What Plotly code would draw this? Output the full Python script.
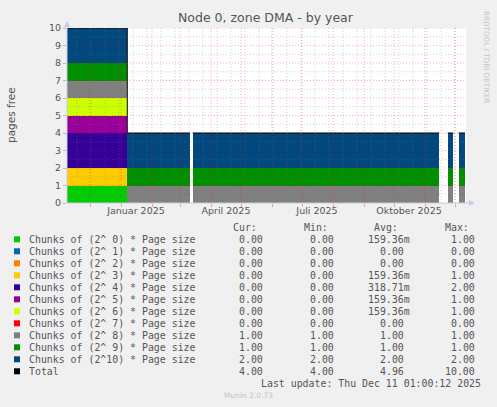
import plotly.graph_objects as go
import pandas as pd

# ---------------- data ----------------
series_names = [
    "Chunks of (2^ 0) * Page size",
    "Chunks of (2^ 1) * Page size",
    "Chunks of (2^ 2) * Page size",
    "Chunks of (2^ 3) * Page size",
    "Chunks of (2^ 4) * Page size",
    "Chunks of (2^ 5) * Page size",
    "Chunks of (2^ 6) * Page size",
    "Chunks of (2^ 7) * Page size",
    "Chunks of (2^ 8) * Page size",
    "Chunks of (2^ 9) * Page size",
    "Chunks of (2^10) * Page size",
]
series_colors = ["#00CC00", "#0066B3", "#FF8000", "#FFCC00", "#330099", "#990099",
                 "#CCFF00", "#FF0000", "#808080", "#008F00", "#00487D"]

seg_start = ["2024-11-08 00:00", "2025-01-07 07:00", "2025-03-13 17:00",
             "2025-11-23 17:00", "2025-12-04 17:00"]
seg_end = ["2025-01-07 07:00", "2025-03-11 00:00", "2025-11-15 00:00",
           "2025-11-29 07:00", "2025-12-11 01:00"]

values_o0 = [1, 0, 0, 0, 0]
values_o1 = [0, 0, 0, 0, 0]
values_o2 = [0, 0, 0, 0, 0]
values_o3 = [1, 0, 0, 0, 0]
values_o4 = [2, 0, 0, 0, 0]
values_o5 = [1, 0, 0, 0, 0]
values_o6 = [1, 0, 0, 0, 0]
values_o7 = [0, 0, 0, 0, 0]
values_o8 = [1, 1, 1, 1, 1]
values_o9 = [1, 1, 1, 1, 1]
values_o10 = [2, 2, 2, 2, 2]
series_values = [values_o0, values_o1, values_o2, values_o3, values_o4, values_o5,
                 values_o6, values_o7, values_o8, values_o9, values_o10]

stat_cur = [0, 0, 0, 0, 0, 0, 0, 0, 1, 1, 2, 4]
stat_min = [0, 0, 0, 0, 0, 0, 0, 0, 1, 1, 2, 4]
stat_avg = [0.15936, 0, 0, 0.15936, 0.31871, 0.15936, 0.15936, 0, 1, 1, 2, 4.96]
stat_max = [1, 0, 0, 1, 2, 1, 1, 0, 1, 1, 2, 10]

x_tick_vals = ["2025-01-16", "2025-04-16", "2025-07-16", "2025-10-16"]
x_tick_text = ["Januar 2025", "April 2025", "Juli 2025", "Oktober 2025"]
y_tick_vals = list(range(0, 11))

title_text = "Node 0, zone DMA - by year"
y_title = "pages free"
last_update = "Last update: Thu Dec 11 01:00:12 2025"
x_range = ["2024-11-08 00:00", "2025-12-12 00:00"]

# ---------------- geometry helpers ----------------
W, H = 497, 407
L, R, T, B = 67, 466, 28, 203


def px(x):
    return (x - L) / (R - L)


def py(y):
    return (B - y) / (B - T)


TXT = "#555555"
MONO = "DejaVu Sans Mono"
SANS = "DejaVu Sans"

starts = pd.to_datetime(seg_start)
ends = pd.to_datetime(seg_end)
mids = starts + (ends - starts) / 2
widths = [(e - s).total_seconds() * 1000 for s, e in zip(starts, ends)]

fig = go.Figure()
for name, color, vals in zip(series_names, series_colors, series_values):
    fig.add_trace(go.Bar(
        x=list(mids), y=vals, width=widths, name=name,
        marker=dict(color=color, line=dict(width=0)),
        showlegend=False, hoverinfo="skip",
    ))

# total line (step)
totals = [sum(v[i] for v in series_values) for i in range(len(seg_start))]
tx, ty = [], []
prev_end = None
for s, e, t in zip(starts, ends, totals):
    if prev_end is not None and s != prev_end:
        tx.append(prev_end); ty.append(prev_tot)
        tx.append(None); ty.append(None)
    tx.append(s); ty.append(t)
    prev_end, prev_tot = e, t
tx.append(prev_end); ty.append(prev_tot)
fig.add_trace(go.Scatter(x=tx, y=ty, mode="lines", line=dict(color="#000000", width=1, shape="hv"),
                         showlegend=False, hoverinfo="skip"))

shapes = []
# grid lines above data (rrdtool style)
minor_col = "rgba(120,120,120,0.35)"
major_col = "rgba(255,0,0,0.33)"
x0d, x1d = pd.Timestamp(x_range[0]), pd.Timestamp(x_range[1])
for d in pd.date_range("2024-11-04", x1d, freq="14D"):
    if x0d < d < x1d:
        shapes.append(dict(type="line", xref="x", yref="paper", x0=d, x1=d, y0=0, y1=1,
                           line=dict(color=minor_col, width=1, dash="1px,2px"), layer="above"))
for d in pd.date_range("2024-12-01", x1d, freq="MS"):
    shapes.append(dict(type="line", xref="x", yref="paper", x0=d, x1=d, y0=0, y1=1,
                       line=dict(color=major_col, width=1, dash="1px,2px"), layer="above"))
for k in range(0, 20):
    yv = 0.5 + k * 0.5
    col = major_col if float(yv).is_integer() else minor_col
    shapes.append(dict(type="line", xref="paper", yref="y", x0=0, x1=1, y0=yv, y1=yv,
                       line=dict(color=col, width=1, dash="1px,2px"), layer="above"))

axis_col = "#C8C8E6"
# axis lines and arrows
shapes.append(dict(type="line", xref="paper", yref="paper", x0=px(L), x1=px(470), y0=0, y1=0,
                   line=dict(color=axis_col, width=1), layer="above"))
shapes.append(dict(type="line", xref="paper", yref="paper", x0=0, x1=0, y0=0, y1=py(24),
                   line=dict(color=axis_col, width=1), layer="above"))
shapes.append(dict(type="path", xref="paper", yref="paper",
                   path=f"M {px(469)} {py(200)} L {px(475)} {py(203)} L {px(469)} {py(206)} Z",
                   fillcolor="#C8C8F4", line=dict(width=0), layer="above"))
shapes.append(dict(type="path", xref="paper", yref="paper",
                   path=f"M {px(64)} {py(27)} L {px(67)} {py(21)} L {px(70)} {py(27)} Z",
                   fillcolor="#C8C8F4", line=dict(width=0), layer="above"))

annotations = []
# title
annotations.append(dict(text=title_text, x=px(266), y=py(18), xref="paper", yref="paper",
                        showarrow=False, xanchor="center", yanchor="middle",
                        font=dict(family=SANS, size=12.5, color=TXT)))
# y axis title
annotations.append(dict(text=y_title, x=px(11), y=py(115), xref="paper", yref="paper",
                        showarrow=False, textangle=-90, xanchor="center", yanchor="middle",
                        font=dict(family=SANS, size=10.5, color=TXT)))
# watermark
annotations.append(dict(text="RRDTOOL / TOBI OETIKER", x=px(487), y=py(57), xref="paper", yref="paper",
                        showarrow=False, textangle=90, xanchor="center", yanchor="middle",
                        font=dict(family=SANS, size=7.2, color="#C4C4C4")))

# legend
col_header_right = [258.5, 329.5, 399.5, 470.5]
col_headers = ["Cur:", "Min:", "Avg:", "Max:"]
for hx, ht in zip(col_header_right, col_headers):
    annotations.append(dict(text=ht, x=px(hx), y=py(227.3), xref="paper", yref="paper",
                            showarrow=False, xanchor="right", yanchor="middle",
                            font=dict(family=MONO, size=9.9, color=TXT)))


def fmt(v):
    if 0 < v < 1:
        return f"{v * 1000:.2f}m", 0
    return f"{v:.2f}", 1


legend_names = series_names + ["Total"]
legend_colors = series_colors + ["#000000"]
val_right = [265, 336, 412, 477]
for i, (nm, colr) in enumerate(zip(legend_names, legend_colors)):
    yrow = 239.3 + 12 * i
    shapes.append(dict(type="rect", xref="paper", yref="paper",
                       x0=px(14), x1=px(20), y0=py(yrow - 3), y1=py(yrow + 3),
                       fillcolor=colr, line=dict(width=0), layer="above"))
    annotations.append(dict(text=nm, x=px(26.5), y=py(yrow), xref="paper", yref="paper",
                            showarrow=False, xanchor="left", yanchor="middle",
                            font=dict(family=MONO, size=9.9, color=TXT)))
    for j, arr in enumerate([stat_cur, stat_min, stat_avg, stat_max]):
        s, pad = fmt(arr[i])
        xr = val_right[j] - (5.94 * pad if j == 2 else 0)
        annotations.append(dict(text=s, x=px(xr), y=py(yrow), xref="paper", yref="paper",
                                showarrow=False, xanchor="right", yanchor="middle",
                                font=dict(family=MONO, size=9.9, color=TXT)))

annotations.append(dict(text=last_update, x=px(482.5), y=py(383.3), xref="paper", yref="paper",
                        showarrow=False, xanchor="right", yanchor="middle",
                        font=dict(family=MONO, size=9.9, color=TXT)))
annotations.append(dict(text="Munin 2.0.73", x=px(248), y=py(395.7), xref="paper", yref="paper",
                        showarrow=False, xanchor="center", yanchor="middle",
                        font=dict(family=SANS, size=7.5, color="#C4C4C4")))

fig.update_layout(
    width=W, height=H, autosize=False,
    margin=dict(l=L, r=W - R, t=T, b=H - B, pad=0),
    paper_bgcolor="#F0F0F0", plot_bgcolor="#FFFFFF",
    barmode="stack", bargap=0,
    shapes=shapes, annotations=annotations,
    xaxis=dict(type="date", range=x_range, tickvals=x_tick_vals, ticktext=x_tick_text,
               ticks="", showgrid=False, zeroline=False, showline=False,
               tickfont=dict(family=SANS, size=9.5, color=TXT),
               minor=dict(ticks="outside", ticklen=3, tickcolor="#F0A0A0",
                          tickmode="array",
                          tickvals=[str(d.date()) for d in pd.date_range("2024-12-01", "2025-12-01", freq="MS")],
                          showgrid=False)),
    yaxis=dict(range=[0, 10], tickvals=y_tick_vals, ticks="outside", ticklen=3,
               tickcolor="#B8B8C8", showgrid=False, zeroline=False, showline=False,
               tickfont=dict(family=SANS, size=9.5, color=TXT)),
)

fig.write_html("out.html",
               config={"displayModeBar": False, "staticPlot": True},
               post_script="document.body.style.margin='0';document.body.style.padding='0';"
                           "document.body.style.overflow='hidden';")
